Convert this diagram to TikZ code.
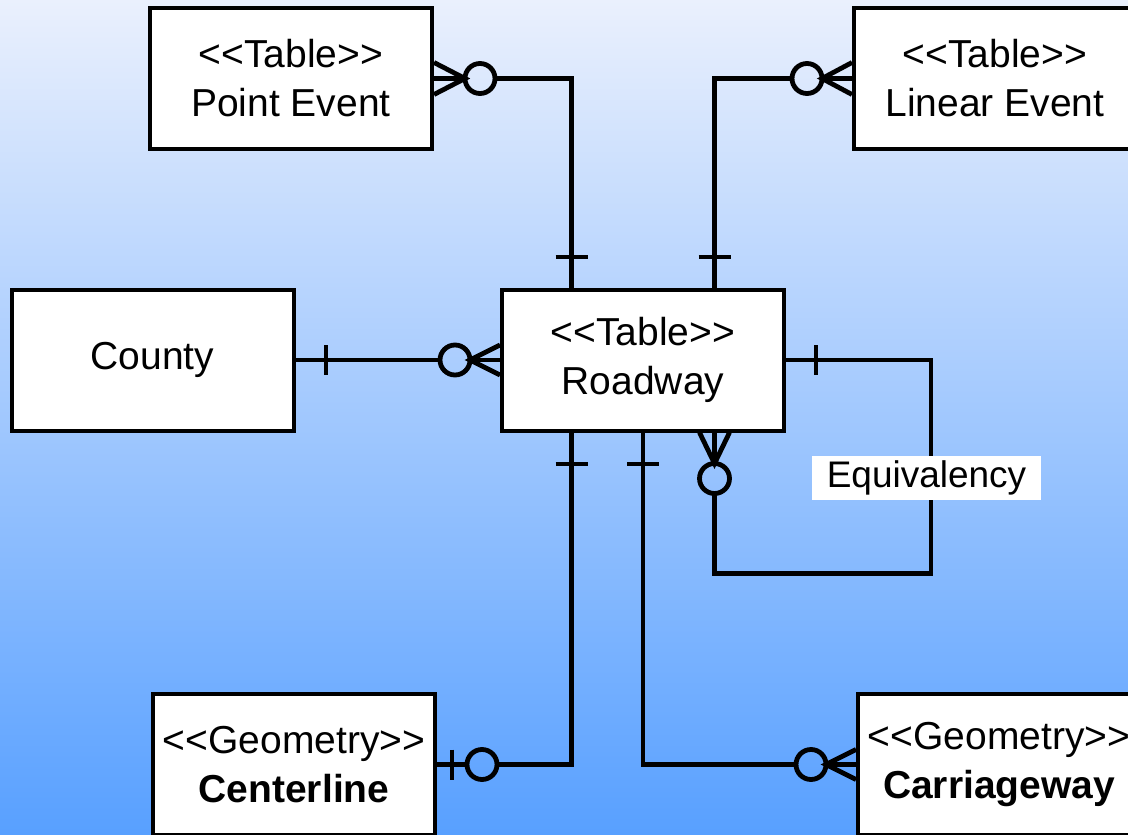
\documentclass[tikz,border=0pt]{standalone}
\usepackage{fontspec}
\setmainfont{Liberation Sans}
\usetikzlibrary{calc}
\definecolor{bgtop}{RGB}{234,240,253}
\definecolor{bgbot}{RGB}{88,160,255}
\newcommand{\stereo}[1]{<{}<#1>{}>}
\begin{document}
\begin{tikzpicture}[x=0.5pt,y=-0.5pt,
  box/.style={draw=black,line width=2pt,fill=white,minimum width=141pt,minimum height=70.5pt,inner sep=0pt,align=center,font=\fontsize{19.5}{24.5}\selectfont},
  conn/.style={line width=2.4pt,line join=miter},
  bar/.style={line width=2pt},
  lab/.style={fill=white,minimum width=114.5pt,minimum height=22pt,inner sep=0pt,font=\fontsize{18.5}{20}\selectfont}]
\useasboundingbox (0,0) rectangle (1128,834);
\shade[top color=bgtop,bottom color=bgbot] (0,0) rectangle (1128,834);

% nodes
\node[box] (pe) at (291,78.5) {\stereo{Table}\\Point Event};
\node[box] (le) at (995,78.5) {\stereo{Table}\\Linear Event};
\node[box] (co) at (152.5,360) {County};
\node[box] (rw) at (643,360) {\stereo{Table}\\Roadway};
\node[box] (cl) at (294,764.5) {\stereo{Geometry}\\\textbf{Centerline}};
\node[box] (cw) at (999,764.5) {\stereo{Geometry}\\\textbf{Carriageway}};

\coordinate (rwN1) at ($(rw.north west)!0.25!(rw.north east)$);
\coordinate (rwN3) at ($(rw.north west)!0.75!(rw.north east)$);
\coordinate (rwS1) at ($(rw.south west)!0.25!(rw.south east)$);
\coordinate (rwS3) at ($(rw.south west)!0.75!(rw.south east)$);

% Point Event -- Roadway
\coordinate (c1) at ($(pe.east)+(46,0)$);
\draw[conn] (pe.east) -- ($(c1)+(-15,0)$);
\draw[conn] ($(pe.east)+(0,-16)$) -- ($(c1)+(-15,0)$) -- ($(pe.east)+(0,16)$);
\draw[conn] (c1) circle[radius=7.5pt];
\draw[conn] ($(c1)+(15,0)$) -| (rwN1);
\draw[bar] ($(rwN1)+(-16,-31)$) -- ($(rwN1)+(16,-31)$);

% Linear Event -- Roadway
\coordinate (c2) at ($(le.west)+(-45,0)$);
\draw[conn] (le.west) -- ($(c2)+(15,0)$);
\draw[conn] ($(le.west)+(0,-16)$) -- ($(c2)+(15,0)$) -- ($(le.west)+(0,16)$);
\draw[conn] (c2) circle[radius=7.5pt];
\draw[conn] ($(c2)+(-15,0)$) -| (rwN3);
\draw[bar] ($(rwN3)+(-16,-31)$) -- ($(rwN3)+(16,-31)$);

% County -- Roadway
\coordinate (c3) at ($(rw.west)+(-45,0)$);
\draw[conn] (co.east) -- ($(c3)+(-15,0)$);
\draw[bar] ($(co.east)+(30,-15)$) -- ($(co.east)+(30,15)$);
\draw[conn] (c3) circle[radius=7.5pt];
\draw[conn] (rw.west) -- ($(c3)+(15,0)$);
\draw[conn] ($(rw.west)+(0,-15)$) -- ($(c3)+(15,0)$) -- ($(rw.west)+(0,15)$);

% Equivalency (self relation)
\coordinate (c4) at ($(rwS3)+(0,46)$);
\coordinate (eqA) at ($(rw.east)+(145,0)$);
\coordinate (eqB) at ($(rwS3)+(0,141)$);
\draw[conn] (rw.east) -- (eqA) |- (eqB) -- ($(c4)+(0,15)$);
\draw[bar] ($(rw.east)+(30,-15)$) -- ($(rw.east)+(30,15)$);
\draw[conn] (c4) circle[radius=7.5pt];
\draw[conn] (rwS3) -- ($(c4)+(0,-15)$);
\draw[conn] ($(rwS3)+(-15,0)$) -- ($(c4)+(0,-15)$) -- ($(rwS3)+(15,0)$);
\node[lab] (eq) at (926.5,478) {Equivalency};

% Centerline -- Roadway
\coordinate (c5) at ($(cl.east)+(45,0)$);
\draw[conn] (rwS1) |- ($(c5)+(15,0)$);
\draw[bar] ($(rwS1)+(-16,31)$) -- ($(rwS1)+(16,31)$);
\draw[conn] (c5) circle[radius=7.5pt];
\draw[conn] (cl.east) -- ($(c5)+(-15,0)$);
\draw[bar] ($(cl.east)+(15,-15)$) -- ($(cl.east)+(15,15)$);

% Carriageway -- Roadway
\coordinate (c6) at ($(cw.west)+(-45,0)$);
\draw[conn] (rw.south) |- ($(c6)+(-15,0)$);
\draw[bar] ($(rw.south)+(-16,31)$) -- ($(rw.south)+(16,31)$);
\draw[conn] (c6) circle[radius=7.5pt];
\draw[conn] (cw.west) -- ($(c6)+(15,0)$);
\draw[conn] ($(cw.west)+(0,-15)$) -- ($(c6)+(15,0)$) -- ($(cw.west)+(0,15)$);
\end{tikzpicture}
\end{document}
